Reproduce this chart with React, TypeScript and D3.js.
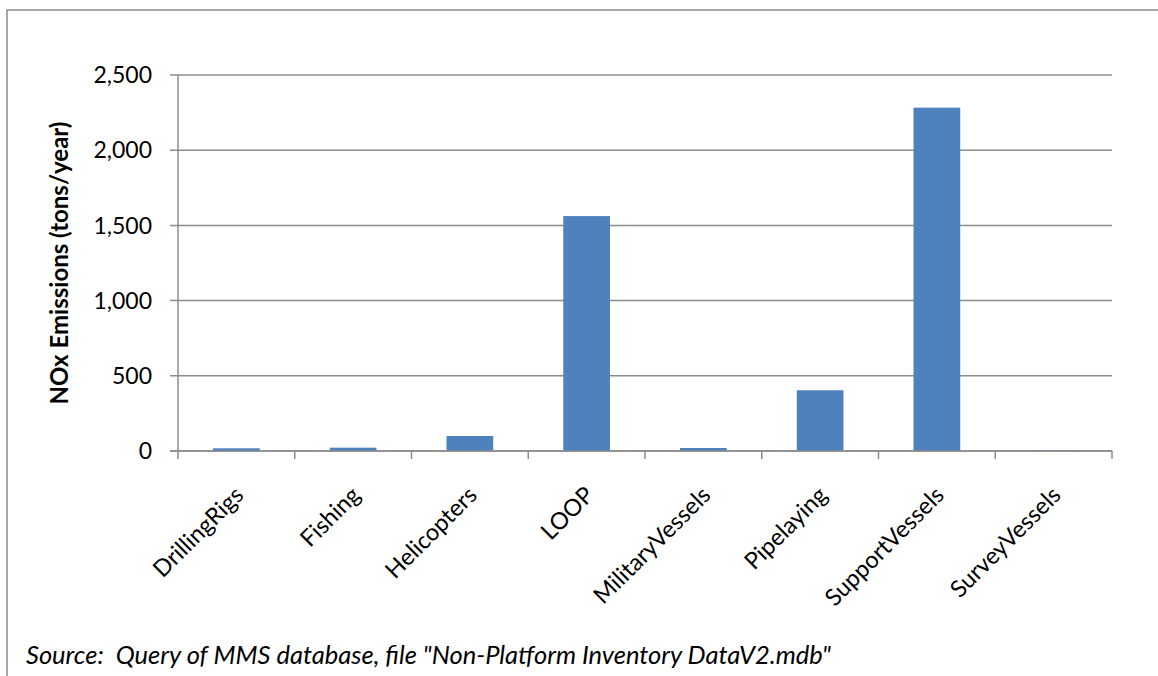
import * as d3 from "d3";
import { useEffect, useRef } from "react";

const WIDTH = 1158;
const HEIGHT = 676;
const PLOT = { left: 178, right: 1112, top: 75, bottom: 451 };
const FONT = "Lato, 'Open Sans', sans-serif";

const CATEGORIES = [
  "DrillingRigs",
  "Fishing",
  "Helicopters",
  "LOOP",
  "MilitaryVessels",
  "Pipelaying",
  "SupportVessels",
  "SurveyVessels",
];
const NOX_TONS = [18, 22, 100, 1562, 20, 404, 2283, 5];
const Y_TICKS = [0, 500, 1000, 1500, 2000, 2500];

const GRID = "#8c8c8c";
const BAR = "#4f81bd";

export default function App() {
  const ref = useRef<SVGSVGElement>(null);

  useEffect(() => {
    const svg = d3.select(ref.current);
    svg.selectAll("*").remove();

    const x = d3
      .scaleBand<string>()
      .domain(CATEGORIES)
      .range([PLOT.left, PLOT.right])
      .paddingInner(0.6)
      .paddingOuter(0.3);
    const y = d3.scaleLinear().domain([0, 2500]).range([PLOT.bottom, PLOT.top]);

    // Chart frame, cut off at the right and bottom like the source image.
    svg
      .append("rect")
      .attr("x", 7)
      .attr("y", 10)
      .attr("width", WIDTH + 20)
      .attr("height", HEIGHT + 20)
      .attr("fill", "white")
      .attr("stroke", GRID)
      .attr("stroke-width", 1.5);

    // Horizontal gridlines with their small outside ticks.
    svg
      .append("g")
      .selectAll("line")
      .data(Y_TICKS)
      .join("line")
      .attr("x1", PLOT.left - 8)
      .attr("x2", PLOT.right)
      .attr("y1", (d) => y(d))
      .attr("y2", (d) => y(d))
      .attr("stroke", GRID)
      .attr("stroke-width", 1.5);

    svg
      .append("g")
      .selectAll("text")
      .data(Y_TICKS)
      .join("text")
      .attr("x", PLOT.left - 26)
      .attr("y", (d) => y(d))
      .attr("dy", "0.36em")
      .attr("text-anchor", "end")
      .attr("font-family", FONT)
      .attr("font-size", 23)
      .attr("fill", "#000")
      .text((d) => d3.format(",")(d));

    svg
      .append("text")
      .attr("transform", `translate(68,${(PLOT.top + PLOT.bottom) / 2}) rotate(-90)`)
      .attr("text-anchor", "middle")
      .attr("font-family", FONT)
      .attr("font-weight", "bold")
      .attr("font-size", 24)
      .text("NOx Emissions (tons/year)");

    // Bars.
    svg
      .append("g")
      .selectAll("rect")
      .data(NOX_TONS)
      .join("rect")
      .attr("x", (_, i) => x(CATEGORIES[i]) ?? 0)
      .attr("width", x.bandwidth())
      .attr("y", (d) => y(d))
      .attr("height", (d) => PLOT.bottom - y(d))
      .attr("fill", BAR);

    // Left and bottom axis lines, category boundary ticks.
    svg
      .append("line")
      .attr("x1", PLOT.left)
      .attr("x2", PLOT.left)
      .attr("y1", PLOT.top)
      .attr("y2", PLOT.bottom + 8)
      .attr("stroke", GRID)
      .attr("stroke-width", 1.5);
    svg
      .append("line")
      .attr("x1", PLOT.left - 8)
      .attr("x2", PLOT.right)
      .attr("y1", PLOT.bottom)
      .attr("y2", PLOT.bottom)
      .attr("stroke", GRID)
      .attr("stroke-width", 1.5);
    const step = (PLOT.right - PLOT.left) / CATEGORIES.length;
    svg
      .append("g")
      .selectAll("line")
      .data(d3.range(1, CATEGORIES.length + 1))
      .join("line")
      .attr("x1", (i) => PLOT.left + i * step)
      .attr("x2", (i) => PLOT.left + i * step)
      .attr("y1", PLOT.bottom)
      .attr("y2", PLOT.bottom + 8)
      .attr("stroke", GRID)
      .attr("stroke-width", 1.5);

    // Rotated category labels, ending just below each bar's centre.
    svg
      .append("g")
      .selectAll("text")
      .data(CATEGORIES)
      .join("text")
      .attr(
        "transform",
        (d) => `translate(${(x(d) ?? 0) + x.bandwidth() / 2 - 3},${PLOT.bottom + 34}) rotate(-45)`,
      )
      .attr("text-anchor", "end")
      .attr("dy", "0.7em")
      .attr("font-family", FONT)
      .attr("font-size", 23.5)
      .text((d) => d);

    svg
      .append("text")
      .attr("x", 26)
      .attr("y", 664)
      .attr("font-family", FONT)
      .attr("font-style", "italic")
      .attr("font-size", 25.5)
      .style("white-space", "pre")
      .text('Source:  Query of MMS database, file "Non-Platform Inventory DataV2.mdb"');
  }, []);

  return (
    <>
      <style>{"body{margin:0;overflow:hidden}"}</style>
      <svg ref={ref} width={WIDTH} height={HEIGHT} style={{ display: "block" }} />
    </>
  );
}
